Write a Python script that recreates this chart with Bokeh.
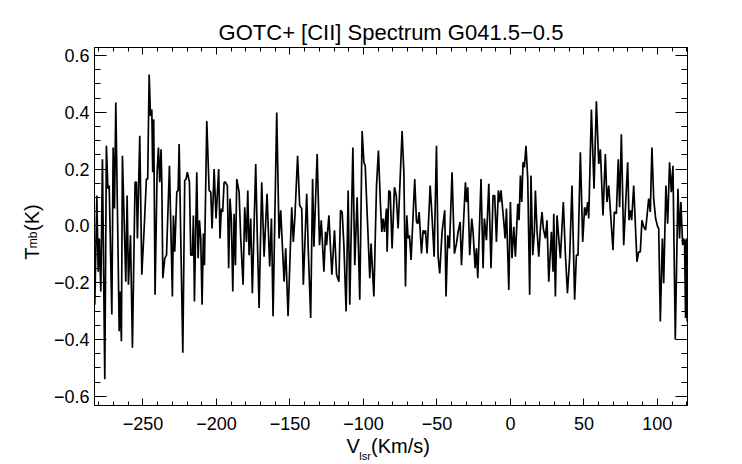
import math
from bokeh.plotting import figure
from bokeh.models import Range1d, LinearAxis, FixedTicker, CustomJSTickFormatter
from bokeh.embed import file_html
from bokeh.resources import INLINE

# ---- data: velocity (km/s) and main-beam temperature (K) ----
v_seg1 = [-282.8, -281.4, -280.5, -279.8, -278.7, -277.6, -276.0, -274.9, -273.9, -273.0,
          -271.2, -270.3, -269.4, -268.5, -267.1, -266.2, -265.6, -264.7, -264.0, -261.7,
          -260.8, -259.9, -258.5, -257.2, -255.4, -254.5, -253.8, -252.2, -250.8, -249.0,
          -247.7, -246.8, -245.8, -244.9, -244.0, -243.4, -242.7, -241.8, -240.4, -239.5,
          -238.6, -237.7]
t_seg1 = [-0.277, 0.107, -0.161, -0.044, -0.231, 0.235, -0.540, 0.282, 0.131, 0.142,
          -0.312, 0.276, 0.061, 0.434, -0.044, -0.371, -0.231, -0.406, 0.247, -0.196,
          0.107, -0.207, -0.033, -0.429, 0.154, 0.154, -0.044, 0.317, -0.172, 0.014,
          0.165, 0.165, 0.533, 0.387, 0.410, 0.189, 0.375, -0.242, 0.189, 0.276,
          0.154, 0.270]

v_seg2 = [-237.2, -236.5, -235.2, -234.0, -232.0, -230.0, -229.3, -228.4, -227.0, -226.1,
          -225.4, -224.3, -222.9, -221.6, -220.7, -219.8, -218.4, -217.5, -216.4, -215.7,
          -215.0, -213.4, -212.5, -211.6, -210.7, -209.8, -208.9, -208.2, -206.6, -205.0,
          -203.9, -203.0, -201.6, -200.3, -198.5, -197.6, -196.7, -195.8, -194.8, -193.9,
          -192.6, -191.7, -190.8, -189.9, -188.9, -188.0, -187.1, -186.2]
t_seg2 = [0.154, -0.184, -0.114, -0.103, 0.212, -0.248, 0.037, -0.091, 0.119, 0.125,
          0.288, -0.044, -0.446, 0.160, 0.165, 0.189, 0.154, -0.103, -0.103, 0.037,
          -0.266, 0.189, -0.114, 0.020, -0.044, -0.277, -0.027, -0.138, 0.369, 0.125,
          0.119, -0.009, 0.200, 0.026, 0.200, -0.044, 0.061, 0.049, 0.154, 0.154,
          0.142, -0.149, 0.096, 0.026, -0.231, 0.043, -0.138, 0.165]

v_seg3 = [-184.6, -183.5, -181.9, -180.8, -179.6, -178.7, -177.8, -176.7, -175.6, -174.4,
          -173.3, -172.2, -171.0, -169.2, -167.6, -165.6, -163.8, -162.6, -161.5, -159.0,
          -157.4, -156.3, -154.0, -152.9, -151.3, -148.8, -147.7, -146.6, -144.8, -143.4,
          -142.0, -140.9, -138.6, -137.5, -135.9]
t_seg3 = [0.119, -0.044, -0.207, 0.066, -0.056, 0.125, -0.103, 0.026, -0.237, 0.002,
          0.218, -0.044, -0.289, 0.154, -0.108, 0.113, -0.143, 0.026, -0.318, 0.399,
          -0.044, 0.055, -0.196, -0.079, -0.318, 0.066, -0.056, 0.037, 0.247, 0.072,
          0.061, -0.207, 0.113, -0.091, -0.324]

v_seg4 = [-134.6, -133.7, -131.5, -129.9, -128.7, -126.9, -125.8, -125.1, -123.5, -121.5,
          -119.7, -118.3, -116.7, -115.6, -114.5, -113.3, -111.8, -110.4, -109.3, -107.2,
          -105.9, -104.3, -102.5, -100.9, -99.7, -98.8, -97.0, -95.7, -94.8, -92.9,
          -91.1, -89.8, -88.4, -87.5, -86.6, -85.7, -84.3]
t_seg4 = [0.165, -0.073, 0.253, -0.068, 0.020, -0.161, -0.021, -0.068, 0.037, -0.172,
          -0.015, -0.172, -0.196, 0.055, 0.049, -0.068, -0.301, 0.125, -0.277, 0.276,
          -0.138, 0.101, -0.260, 0.334, 0.224, 0.212, -0.015, -0.184, -0.062, -0.248,
          0.142, 0.265, 0.072, -0.021, 0.026, -0.021, 0.061]

v_seg5 = [-83.9, -82.7, -81.8, -80.5, -78.9, -77.7, -76.4, -73.7, -72.5, -71.4,
          -70.5, -69.6, -68.7, -67.6, -65.1, -63.9, -63.0, -62.1, -60.5, -59.4,
          -58.5, -57.8, -56.7, -54.6, -53.3, -51.9, -50.3, -49.2, -48.1, -46.5,
          -44.7, -43.8, -42.6, -41.5, -39.7, -38.1, -36.7, -35.6, -34.2, -33.3]
t_seg5 = [-0.091, 0.125, 0.119, -0.079, 0.136, 0.107, -0.009, 0.334, 0.189, -0.213,
          0.037, -0.044, -0.033, -0.120, 0.165, 0.014, 0.008, 0.049, -0.097, -0.015,
          -0.027, -0.015, -0.097, 0.142, 0.031, -0.108, 0.282, -0.108, -0.167, -0.021,
          0.055, -0.248, -0.033, -0.079, 0.189, -0.097, -0.062, -0.021, 0.014, -0.138]

v_seg6 = [-30.6, -29.9, -29.0, -27.7, -26.3, -25.4, -24.0, -23.1, -22.2, -20.0,
          -18.6, -17.7, -16.3, -14.7, -13.2, -11.8, -10.7, -9.5, -8.2, -7.3,
          -6.4, -4.5, -3.6, -2.7, -1.1, 0.0, 1.1, 2.3, 3.4, 5.0,
          5.9, 6.8, 7.7, 8.6, 9.5, 10.6, 11.8, 13.1, 14.0, 15.2,
          16.3]
t_seg6 = [0.154, 0.084, 0.136, -0.103, 0.026, -0.021, -0.149, -0.079, -0.184, 0.165,
          -0.149, 0.026, -0.050, 0.148, -0.149, 0.107, 0.107, -0.056, 0.125, 0.084,
          0.125, 0.014, -0.044, 0.061, -0.225, 0.084, -0.114, -0.003, -0.108, 0.078,
          0.020, 0.177, 0.084, 0.224, 0.206, 0.282, 0.165, -0.242, 0.177, -0.103,
          -0.021]

v_seg7 = [17.0, 18.1, 19.3, 20.4, 21.5, 22.4, 23.8, 24.9, 26.1, 27.9,
          29.0, 29.5, 30.6, 31.7, 32.9, 34.0, 36.0, 37.4, 38.8, 40.3,
          41.9, 43.7, 44.9, 46.0, 47.6, 49.2, 50.5, 51.4, 52.6, 53.3,
          55.1, 56.9, 58.5, 60.1, 61.2, 63.0, 64.6, 65.7, 66.9]
t_seg7 = [0.125, -0.015, -0.108, -0.009, 0.049, -0.009, -0.044, 0.020, -0.196, -0.021,
          -0.161, 0.043, -0.248, 0.037, -0.044, -0.114, 0.084, -0.097, -0.237, -0.114,
          0.142, -0.260, -0.103, -0.103, 0.259, -0.056, 0.066, 0.037, 0.084, 0.026,
          0.410, 0.131, 0.439, 0.218, 0.270, 0.037, 0.253, 0.084, 0.142]

v_seg8 = [69.8, 70.7, 72.1, 73.4, 74.3, 75.5, 77.1, 78.9, 79.8, 80.7,
          81.6, 82.5, 83.9, 86.1, 87.3, 88.4, 89.5, 90.7, 92.0, 94.1,
          95.2, 96.3, 97.5, 98.8, 100.2, 100.9, 102.0, 103.4, 104.3, 105.8,
          107.0, 108.3, 109.5, 110.6, 112.2, 114.0, 115.1, 116.0, 117.2, 117.8,
          118.5, 119.2, 119.7, 120.3]
t_seg8 = [-0.085, 0.049, 0.043, 0.235, 0.066, 0.323, -0.068, 0.131, 0.224, 0.020,
          0.055, 0.020, 0.142, -0.126, -0.091, -0.091, 0.020, -0.003, -0.015, 0.096,
          0.049, 0.276, 0.096, 0.026, -0.003, -0.009, -0.336, -0.044, -0.202, 0.142,
          0.008, 0.224, 0.119, 0.212, -0.400, 0.131, -0.044, 0.084, -0.068, -0.044,
          -0.056, -0.324, -0.044, -0.336]

x_major_ticks = [-250, -200, -150, -100, -50, 0, 50, 100]
y_major_ticks = [-0.6, -0.4, -0.2, 0.0, 0.2, 0.4, 0.6]
title_text = "GOTC+ [CII] Spectrum G041.5\u22120.5"
NB = "\u00a0"
# axis titles: main part, with a gap where the subscript sits, and the subscript
x_title_main = "V" + NB * 2 + "(Km/s)" + NB
x_title_sub = "lsr" + NB * 17
y_title_main = "T" + NB * 3 + "(K)" + NB * 2
y_title_sub = "mb" + NB * 8

# ---- assemble ----
V, T = [], []
for vs, ts in [(v_seg1, t_seg1), (v_seg2, t_seg2), (v_seg3, t_seg3), (v_seg4, t_seg4),
               (v_seg5, t_seg5), (v_seg6, t_seg6), (v_seg7, t_seg7), (v_seg8, t_seg8)]:
    n = min(len(vs), len(ts))
    V.extend(vs[:n])
    T.extend(ts[:n])

X0, X1 = -283.0, 120.5
Y0, Y1 = -0.632, 0.628
W, H = 740, 464
FL, FT, FW, FH = 94, 47, 593, 360
FONT = "Liberation Sans"

p = figure(width=W, height=H,
           min_border_left=FL, min_border_right=W - FL - FW,
           min_border_top=FT, min_border_bottom=H - FT - FH,
           x_range=Range1d(X0, X1), y_range=Range1d(Y0, Y1),
           output_backend="svg", toolbar_location=None, title=title_text)
p.background_fill_color = "white"
p.border_fill_color = "white"
p.outline_line_color = "black"
p.outline_line_width = 1
p.xgrid.visible = False
p.ygrid.visible = False

p.title.align = "center"
p.title.text_font = FONT
p.title.text_font_size = "22px"
p.title.text_font_style = "normal"
p.title.text_color = "black"
p.title.standoff = 6

x_minor = list(range(-280, 121, 10))
y_minor = [round(-0.6 + 0.05 * k, 2) for k in range(25)]
xt = FixedTicker(ticks=x_major_ticks, minor_ticks=x_minor)
yt = FixedTicker(ticks=y_major_ticks, minor_ticks=y_minor)
empty_t = FixedTicker(ticks=[], minor_ticks=[])

fmt_x = CustomJSTickFormatter(code="return (tick < -1e-9 ? '\\u2212' : '') + Math.abs(tick).toFixed(0);")
fmt_y = CustomJSTickFormatter(code="return (tick < -1e-9 ? '\\u2212' : '') + Math.abs(tick).toFixed(1);")

def style_axis(ax, ticker, tin, minin):
    ax.ticker = ticker
    ax.axis_line_color = "black"
    ax.axis_line_width = 1
    ax.major_tick_line_color = "black"
    ax.minor_tick_line_color = "black"
    ax.major_tick_in = tin
    ax.major_tick_out = 0
    ax.minor_tick_in = minin
    ax.minor_tick_out = 0
    ax.major_label_text_font = FONT
    ax.major_label_text_color = "black"
    ax.axis_label_text_font = FONT
    ax.axis_label_text_font_style = "normal"
    ax.axis_label_text_color = "black"

def bare_axis():
    ax = LinearAxis(formatter=CustomJSTickFormatter(code="return '';"))
    ax.ticker = empty_t
    ax.axis_line_color = None
    ax.major_tick_line_color = None
    ax.minor_tick_line_color = None
    ax.major_tick_in = 0
    ax.major_tick_out = 0
    ax.minor_tick_in = 0
    ax.minor_tick_out = 0
    ax.major_label_text_font_size = "0px"
    ax.major_label_standoff = 0
    ax.axis_label_text_font = FONT
    ax.axis_label_text_font_style = "normal"
    ax.axis_label_text_color = "black"
    return ax

xa = p.xaxis[0]
style_axis(xa, xt, 7, 4)
xa.formatter = fmt_x
xa.major_label_text_font_size = "18px"
xa.major_label_standoff = 11
xa.axis_label = x_title_main
xa.axis_label_text_font_size = "20px"
xa.axis_label_standoff = 2

ya = p.yaxis[0]
style_axis(ya, yt, 12, 6)
ya.formatter = fmt_y
ya.major_label_text_font_size = "18px"
ya.major_label_standoff = 5
ya.axis_label = y_title_main
ya.axis_label_text_font_size = "20px"
ya.axis_label_standoff = 8

# subscripts as labels of two bare axes stacked next to the real ones
xsub = bare_axis()
xsub.axis_label = x_title_sub
xsub.axis_label_text_font_size = "11px"
xsub.axis_label_standoff = -10
p.add_layout(xsub, "below")

ysub = bare_axis()
ysub.axis_label = y_title_sub
ysub.axis_label_text_font_size = "12px"
ysub.axis_label_standoff = -22
p.add_layout(ysub, "left")

top = LinearAxis(formatter=CustomJSTickFormatter(code="return '';"))
style_axis(top, xt, 7, 4)
top.major_label_text_font_size = "0px"
top.major_label_standoff = 0
p.add_layout(top, "above")

right = LinearAxis(formatter=CustomJSTickFormatter(code="return '';"))
style_axis(right, yt, 12, 6)
right.major_label_text_font_size = "0px"
right.major_label_standoff = 0
p.add_layout(right, "right")

p.line(V, T, line_color="black", line_width=1.7)

open("out.html", "w", encoding="utf-8").write(file_html(p, INLINE))
